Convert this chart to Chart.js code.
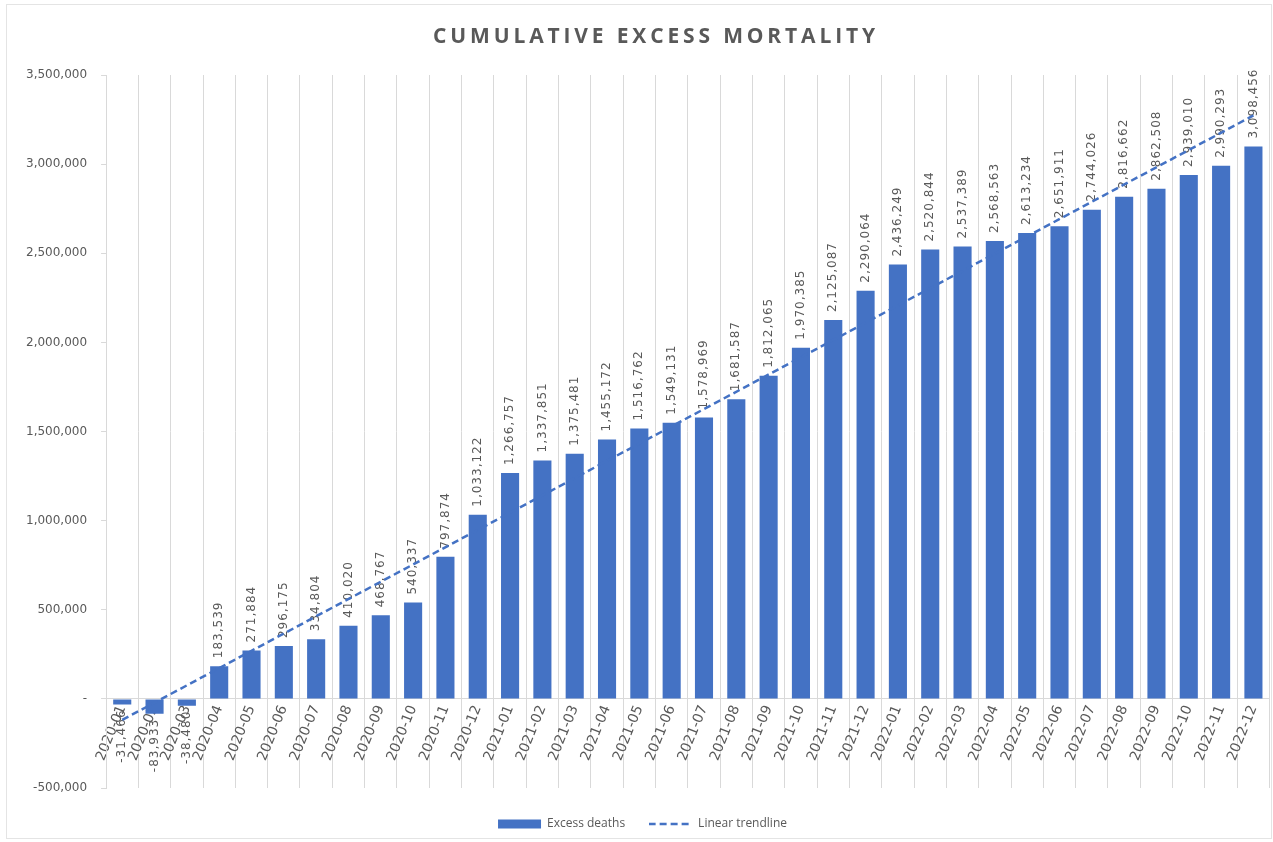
<!DOCTYPE html>
<html>
<head>
<meta charset="utf-8">
<title>Cumulative excess mortality</title>
<script src="https://cdn.jsdelivr.net/npm/chart.js@4.4.1/dist/chart.umd.min.js"></script>
<style>
  body { margin: 0; background: #fff; }
  #wrap { position: relative; width: 1273px; height: 842px; }
  #frame { position: absolute; left: 6px; top: 4px; right: 1px; bottom: 3px; border: 1px solid #e4e4e4; pointer-events: none; }
</style>
</head>
<body>
<div id="wrap">
  <canvas id="mortalityChart"></canvas>
  <div id="frame"></div>
</div>
<script>
const titleText = "CUMULATIVE EXCESS MORTALITY";

const months = [
  "2020-01", "2020-02", "2020-03", "2020-04", "2020-05", "2020-06",
  "2020-07", "2020-08", "2020-09", "2020-10", "2020-11", "2020-12",
  "2021-01", "2021-02", "2021-03", "2021-04", "2021-05", "2021-06",
  "2021-07", "2021-08", "2021-09", "2021-10", "2021-11", "2021-12",
  "2022-01", "2022-02", "2022-03", "2022-04", "2022-05", "2022-06",
  "2022-07", "2022-08", "2022-09", "2022-10", "2022-11", "2022-12"
];

const excessDeaths = [
  -31466, -83933, -38480, 183539, 271884, 296175,
  334804, 410020, 468767, 540337, 797874, 1033122,
  1266757, 1337851, 1375481, 1455172, 1516762, 1549131,
  1578969, 1681587, 1812065, 1970385, 2125087, 2290064,
  2436249, 2520844, 2537389, 2568563, 2613234, 2651911,
  2744026, 2816662, 2862508, 2939010, 2990293, 3098456
];

// trendline end points
const trendMonths = ["2020-01", "2022-12"];
const trendValues = [-118000, 3273000];

const yMin = -500000;
const yMax = 3500000;
const yStep = 500000;

const grey = "#595959";
const gridGrey = "#d9d9d9";
const barBlue = "#4472c4";

// small dashed swatch for the trendline legend entry
const dashSwatch = document.createElement("canvas");
dashSwatch.width = 44;
dashSwatch.height = 4;
(function () {
  const c = dashSwatch.getContext("2d");
  c.strokeStyle = barBlue;
  c.lineWidth = 2.5;
  c.setLineDash([7, 4]);
  c.beginPath();
  c.moveTo(0, 2);
  c.lineTo(44, 2);
  c.stroke();
})();

// x axis is drawn on a layer after the datasets; space its labels out a bit
const axisSpacing = {
  id: "axisSpacing",
  afterDatasetsDraw(chart) { chart.ctx.letterSpacing = "1.3px"; },
  afterDraw(chart) { chart.ctx.letterSpacing = "0px"; }
};

// value labels, rotated, just past the end of each bar
const valueLabels = {
  id: "valueLabels",
  afterDatasetDraw(chart, args) {
    if (args.index !== 0) return;
    const ctx = chart.ctx;
    args.meta.data.forEach((bar, i) => {
      const v = excessDeaths[i];
      ctx.save();
      ctx.font = '12px "DejaVu Sans"';
      ctx.letterSpacing = "1px";
      ctx.fillStyle = grey;
      ctx.textBaseline = "middle";
      ctx.translate(bar.x, v >= 0 ? bar.y - 8 : bar.y + 5);
      ctx.rotate(-Math.PI / 2);
      ctx.textAlign = v >= 0 ? "left" : "right";
      ctx.fillText(v.toLocaleString("en-US"), 0, 0);
      ctx.restore();
    });
  }
};

const spacedTitle = {
  id: "spacedTitle",
  afterDraw(chart) {
    const ctx = chart.ctx;
    ctx.save();
    ctx.font = 'bold 21px "Open Sans"';
    ctx.letterSpacing = "3.85px";
    ctx.fillStyle = grey;
    ctx.textAlign = "center";
    ctx.textBaseline = "middle";
    ctx.fillText(titleText, 656, 37);
    ctx.restore();
  }
};

const ctx = document.getElementById("mortalityChart").getContext("2d");

new Chart(ctx, {
  type: "bar",
  data: {
    labels: months,
    datasets: [
      {
        label: "Excess deaths",
        data: excessDeaths,
        backgroundColor: barBlue,
        barPercentage: 0.56,
        categoryPercentage: 1,
        pointStyle: "rect",
        order: 1
      },
      {
        type: "line",
        label: "Linear trendline",
        data: trendMonths.map((m, i) => ({ x: m, y: trendValues[i] })),
        borderColor: barBlue,
        borderWidth: 2.5,
        borderDash: [7, 4],
        pointRadius: 0,
        fill: false,
        pointStyle: dashSwatch,
        order: 0
      }
    ]
  },
  options: {
    responsive: true,
    maintainAspectRatio: false,
    animation: false,
    layout: { padding: { top: 75, left: 12, right: 0, bottom: 2 } },
    scales: {
      x: {
        position: { y: 0 },
        offset: true,
        z: 1,
        grid: { color: gridGrey, offset: true, drawTicks: false },
        border: { color: gridGrey },
        ticks: {
          color: grey,
          font: { family: "DejaVu Sans", size: 14 },
          autoSkip: false,
          minRotation: 68,
          maxRotation: 68,
          padding: 4
        }
      },
      y: {
        min: yMin,
        max: yMax,
        grid: { drawOnChartArea: false, color: gridGrey, tickLength: 5 },
        border: { color: gridGrey },
        ticks: {
          stepSize: yStep,
          color: grey,
          padding: 14,
          font: { family: "DejaVu Sans", size: 12 },
          callback: v => (v === 0 ? "-" : v.toLocaleString("en-US"))
        }
      }
    },
    plugins: {
      title: { display: false },
      tooltip: { enabled: false },
      legend: {
        position: "bottom",
        title: { display: true, text: "", font: { size: 5 }, padding: 0 },
        labels: {
          usePointStyle: true,
          pointStyleWidth: 43,
          boxHeight: 9,
          padding: 24,
          color: grey,
          font: { family: "Open Sans", size: 12 },
          sort: (a, b) => a.datasetIndex - b.datasetIndex
        }
      }
    }
  },
  plugins: [axisSpacing, valueLabels, spacedTitle]
});
</script>
</body>
</html>
